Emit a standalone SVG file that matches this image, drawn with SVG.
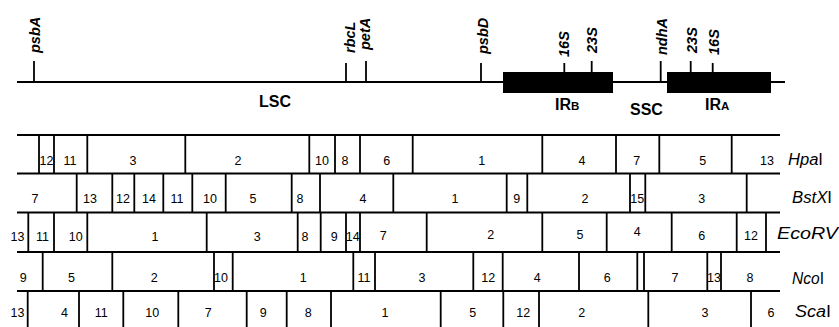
<svg xmlns="http://www.w3.org/2000/svg" width="839" height="327" viewBox="0 0 839 327">
  <style>
    text { font-family: "Liberation Sans", Arial, Helvetica, sans-serif; fill: #000; }
    .gene { font-size: 14.5px; font-weight: bold; font-style: italic; }
    .region { font-size: 16px; font-weight: bold; }
    .sub { font-size: 11.5px; }
    .frag { font-size: 12.5px; text-anchor: middle; }
    .enz { font-size: 16px; }
    .enz tspan.it { font-style: italic; }
    .ln { stroke: #000; stroke-width: 1.8; fill: none; }
    .map { stroke: #000; stroke-width: 1.8; fill: none; }
  </style>

  <!-- Chloroplast genome map -->
  <g id="genome-map">
    <line class="map" x1="17" y1="82" x2="785" y2="82"/>
    <rect x="503" y="72" width="110" height="21" fill="#000"/>
    <rect x="667" y="72" width="104" height="21" fill="#000"/>
    <g class="map">
      <line x1="34" y1="61" x2="34" y2="82"/>
      <line x1="346" y1="63" x2="346" y2="82"/>
      <line x1="366" y1="61" x2="366" y2="82"/>
      <line x1="481" y1="63" x2="481" y2="82"/>
      <line x1="564.3" y1="63" x2="564.3" y2="72"/>
      <line x1="591.7" y1="61" x2="591.7" y2="72"/>
      <line x1="660.7" y1="61" x2="660.7" y2="82"/>
      <line x1="690.7" y1="61" x2="690.7" y2="72"/>
      <line x1="712.7" y1="63" x2="712.7" y2="72"/>
    </g>
    <g class="gene">
      <text transform="translate(40,53) rotate(-90)">psbA</text>
      <text transform="translate(355,53) rotate(-90)">rbcL</text>
      <text transform="translate(370,50) rotate(-90)">petA</text>
      <text transform="translate(487.5,54) rotate(-90)">psbD</text>
      <text transform="translate(569.3,57) rotate(-90)">16S</text>
      <text transform="translate(597,53) rotate(-90)">23S</text>
      <text transform="translate(667,55) rotate(-90)">ndhA</text>
      <text transform="translate(697,53) rotate(-90)">23S</text>
      <text transform="translate(719,55) rotate(-90)">16S</text>
    </g>
    <g class="region">
      <text x="259" y="107">LSC</text>
      <text x="555" y="110">IR<tspan class="sub">B</tspan></text>
      <text x="630" y="114.5">SSC</text>
      <text x="705" y="110">IR<tspan class="sub">A</tspan></text>
    </g>
  </g>

  <!-- Restriction fragment rows -->
  <g id="row-borders" class="ln">
    <line x1="17" y1="135" x2="780" y2="135"/>
    <line x1="17" y1="173.5" x2="780" y2="173.5"/>
    <line x1="17" y1="212.5" x2="780" y2="212.5"/>
    <line x1="17" y1="252" x2="780" y2="252"/>
    <line x1="17" y1="291" x2="780" y2="291"/>
  </g>

  <g id="HpaI">
    <path class="ln" d="M39 135V173.5M54 135V173.5M87.3 135V173.5M185.3 135V173.5M309.3 135V173.5M335 135V173.5M360 135V173.5M412.7 135V173.5M542.3 135V173.5M616 135V173.5M659.3 135V173.5M731.7 135V173.5"/>
    <g class="frag">
      <text x="46.5" y="165">12</text><text x="70" y="165">11</text><text x="133" y="165">3</text>
      <text x="238" y="165">2</text><text x="322" y="165">10</text><text x="345" y="165">8</text>
      <text x="386.7" y="165">6</text><text x="481.7" y="165">1</text><text x="582" y="165">4</text>
      <text x="636.7" y="165">7</text><text x="702.7" y="165">5</text><text x="767" y="165">13</text>
    </g>
    <text class="enz" x="788" y="165" textLength="35" lengthAdjust="spacingAndGlyphs"><tspan class="it">Hpa</tspan>I</text>
  </g>

  <g id="BstXI">
    <path class="ln" d="M76.7 173.5V212.5M112.3 173.5V212.5M134.3 173.5V212.5M163.3 173.5V212.5M192.3 173.5V212.5M225.7 173.5V212.5M291.7 173.5V212.5M320 173.5V212.5M393.3 173.5V212.5M506.7 173.5V212.5M527.3 173.5V212.5M630 173.5V212.5M645.3 173.5V212.5M746.7 173.5V212.5"/>
    <g class="frag">
      <text x="35" y="203">7</text><text x="90" y="203">13</text><text x="123" y="203">12</text>
      <text x="149" y="203">14</text><text x="177" y="203">11</text><text x="210" y="203">10</text>
      <text x="253" y="203">5</text><text x="300" y="203">8</text><text x="363" y="203">4</text>
      <text x="455" y="203">1</text><text x="516.7" y="203">9</text><text x="585" y="203">2</text>
      <text x="637.3" y="203">15</text><text x="701.7" y="203">3</text>
    </g>
    <text class="enz" x="792" y="203" textLength="40" lengthAdjust="spacingAndGlyphs"><tspan class="it">BstX</tspan>I</text>
  </g>

  <g id="EcoRV">
    <path class="ln" d="M28.3 212.5V252M54 212.5V252M87.3 212.5V252M206.7 212.5V252M297.7 212.5V252M320.7 212.5V252M346 212.5V252M360 212.5V252M426.7 212.5V252M542.3 212.5V252M606.7 212.5V252M671.7 212.5V252M736.7 212.5V252M766 212.5V252"/>
    <g class="frag">
      <text x="17.5" y="241">13</text><text x="42.5" y="241">11</text><text x="75.7" y="241">10</text>
      <text x="155" y="241">1</text><text x="257.3" y="241">3</text><text x="305" y="241">8</text>
      <text x="334.3" y="241">9</text><text x="352.7" y="241">14</text><text x="383.3" y="240">7</text>
      <text x="490.7" y="239">2</text><text x="580" y="239">5</text><text x="637.3" y="236">4</text>
      <text x="701.7" y="240">6</text><text x="751" y="240">12</text>
    </g>
    <text class="enz" x="777" y="238.5" font-style="italic" textLength="61" lengthAdjust="spacingAndGlyphs">EcoRV</text>
  </g>

  <g id="NcoI">
    <path class="ln" d="M42.7 252V291M112.3 252V291M214 252V291M232.7 252V291M353.3 252V291M375 252V291M473.3 252V291M502.7 252V291M579 252V291M637.3 252V291M644 252V291M707.3 252V291M721 252V291"/>
    <g class="frag">
      <text x="23.3" y="282">9</text><text x="71.5" y="282">5</text><text x="154.3" y="282">2</text>
      <text x="221" y="282">10</text><text x="303.3" y="282">1</text><text x="364" y="282">11</text>
      <text x="422" y="282">3</text><text x="488.3" y="282">12</text><text x="537.3" y="282">4</text>
      <text x="607.3" y="282">6</text><text x="675" y="282">7</text><text x="714" y="282">13</text>
      <text x="750" y="282">8</text>
    </g>
    <text class="enz" x="792" y="283.5" textLength="32" lengthAdjust="spacingAndGlyphs"><tspan class="it">Nco</tspan>I</text>
  </g>

  <g id="ScaI">
    <path class="ln" d="M27.7 291V327M79 291V327M123.3 291V327M178.3 291V327M246.7 291V327M286.7 291V327M331 291V327M440.7 291V327M503.3 291V327M539 291V327M648.3 291V327M751 291V327"/>
    <g class="frag">
      <text x="17.5" y="317">13</text><text x="64.5" y="317">4</text><text x="101.3" y="317">11</text>
      <text x="152.3" y="317">10</text><text x="208.3" y="317">7</text><text x="263.3" y="317">9</text>
      <text x="308.3" y="317">8</text><text x="385" y="317">1</text><text x="472.7" y="317">5</text>
      <text x="523.3" y="317">12</text><text x="581.7" y="317">2</text><text x="705" y="317">3</text>
      <text x="771" y="317">6</text>
    </g>
    <text class="enz" x="795" y="316.5" textLength="36" lengthAdjust="spacingAndGlyphs"><tspan class="it">Sca</tspan>I</text>
  </g>
</svg>
